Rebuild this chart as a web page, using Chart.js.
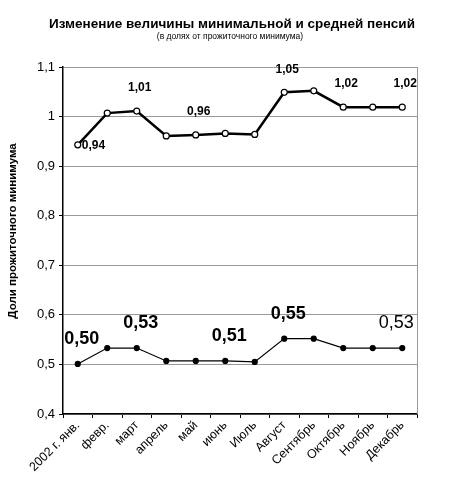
<!DOCTYPE html>
<html>
<head>
<meta charset="utf-8">
<script src="https://cdn.jsdelivr.net/npm/chart.js@4"></script>
<style>
  html, body { margin: 0; padding: 0; background: #fff; }
  #wrap { width: 449px; height: 491px; }
</style>
</head>
<body>
<div id="wrap"><canvas id="pensionChart" width="449" height="491"></canvas></div>
<script>
const months = ['2002 г. янв.', 'февр.', 'март', 'апрель', 'май', 'июнь', 'Июль', 'Август', 'Сентябрь', 'Октябрь', 'Ноябрь', 'Декабрь'];
const avgPension = [0.943, 1.007, 1.011, 0.961, 0.963, 0.966, 0.964, 1.049, 1.052, 1.019, 1.019, 1.019];
const minPension = [0.501, 0.533, 0.533, 0.507, 0.507, 0.507, 0.505, 0.552, 0.552, 0.533, 0.533, 0.533];
const avgLabelIdx = [0, 2, 4, 7, 9, 11];
const minLabelIdx = [0, 2, 5, 7, 11];

const FONT = '"Liberation Sans", Arial, sans-serif';

function fmt(v) {
  return v.toFixed(2).replace('.', ',');
}

// titles, value labels, y title and the right frame line
const extras = {
  id: 'extras',
  afterDraw(chart) {
    const ctx = chart.ctx;
    const area = chart.chartArea;
    const x = chart.scales.x;
    const y = chart.scales.y;
    ctx.save();

    ctx.strokeStyle = '#999';
    ctx.lineWidth = 1;
    ctx.beginPath();
    ctx.moveTo(area.right + 0.5, area.top);
    ctx.lineTo(area.right + 0.5, area.bottom);
    ctx.stroke();

    ctx.fillStyle = '#000';
    ctx.textAlign = 'center';
    ctx.textBaseline = 'middle';
    ctx.font = 'bold 13.5px ' + FONT;
    ctx.fillText('Изменение величины минимальной и средней пенсий', 232, 24);
    ctx.font = '8.5px ' + FONT;
    ctx.fillText('(в долях от прожиточного минимума)', 230, 37);

    ctx.save();
    ctx.translate(13, 231);
    ctx.rotate(-Math.PI / 2);
    ctx.font = 'bold 11.5px ' + FONT;
    ctx.fillText('Доли прожиточного минимума', 0, 0);
    ctx.restore();

    ctx.font = 'bold 12px ' + FONT;
    avgLabelIdx.forEach((i, n) => {
      const px = x.getPixelForValue(i);
      const py = y.getPixelForValue(avgPension[i]);
      if (n === 0) {
        ctx.textAlign = 'left';
        ctx.fillText(fmt(avgPension[i]), px + 4, py + 1);
      } else {
        ctx.textAlign = 'center';
        ctx.fillText(fmt(avgPension[i]), px + 3, py - 23);
      }
    });

    ctx.textAlign = 'center';
    minLabelIdx.forEach((i, n) => {
      const last = n === minLabelIdx.length - 1;
      ctx.font = (last ? '' : 'bold ') + '18px ' + FONT;
      const px = x.getPixelForValue(i);
      const py = y.getPixelForValue(minPension[i]);
      ctx.fillText(fmt(minPension[i]), px + (last ? -6 : 4), py - 25);
    });

    ctx.restore();
  }
};

const ctx = document.getElementById('pensionChart').getContext('2d');
new Chart(ctx, {
  type: 'line',
  data: {
    labels: months,
    datasets: [
      {
        label: 'Средняя пенсия',
        data: avgPension,
        borderColor: '#000',
        borderWidth: 2.5,
        pointBackgroundColor: '#fff',
        pointBorderColor: '#000',
        pointBorderWidth: 1.2,
        pointRadius: 3,
        tension: 0,
      },
      {
        label: 'Минимальная пенсия',
        data: minPension,
        borderColor: '#000',
        borderWidth: 1.2,
        pointBackgroundColor: '#000',
        pointBorderColor: '#000',
        pointRadius: 2.5,
        tension: 0,
      },
    ],
  },
  options: {
    responsive: false,
    animation: false,
    devicePixelRatio: 1,
    layout: { padding: { top: 67, right: 32, left: 0, bottom: 0 } },
    plugins: {
      legend: { display: false },
      tooltip: { enabled: false },
    },
    scales: {
      x: {
        offset: true,
        grid: { offset: true, drawOnChartArea: false, drawTicks: true, tickLength: 4, color: '#000' },
        border: { color: '#000', width: 1.5 },
        ticks: {
          color: '#000',
          font: { size: 12.5, family: FONT },
          minRotation: 45,
          maxRotation: 45,
          autoSkip: false,
          padding: 0,
        },
        afterFit(scale) { scale.height = 77; },
      },
      y: {
        min: 0.4,
        max: 1.1,
        ticks: {
          stepSize: 0.1,
          color: '#000',
          font: { size: 13, family: FONT },
          padding: 4,
          callback: (v) => String(Math.round(v * 10) / 10).replace('.', ','),
        },
        grid: { color: '#999', tickColor: '#000', tickLength: 4 },
        border: { color: '#000', width: 1.5 },
        afterFit(scale) { scale.width = 63; },
      },
    },
  },
  plugins: [extras],
});
</script>
</body>
</html>
